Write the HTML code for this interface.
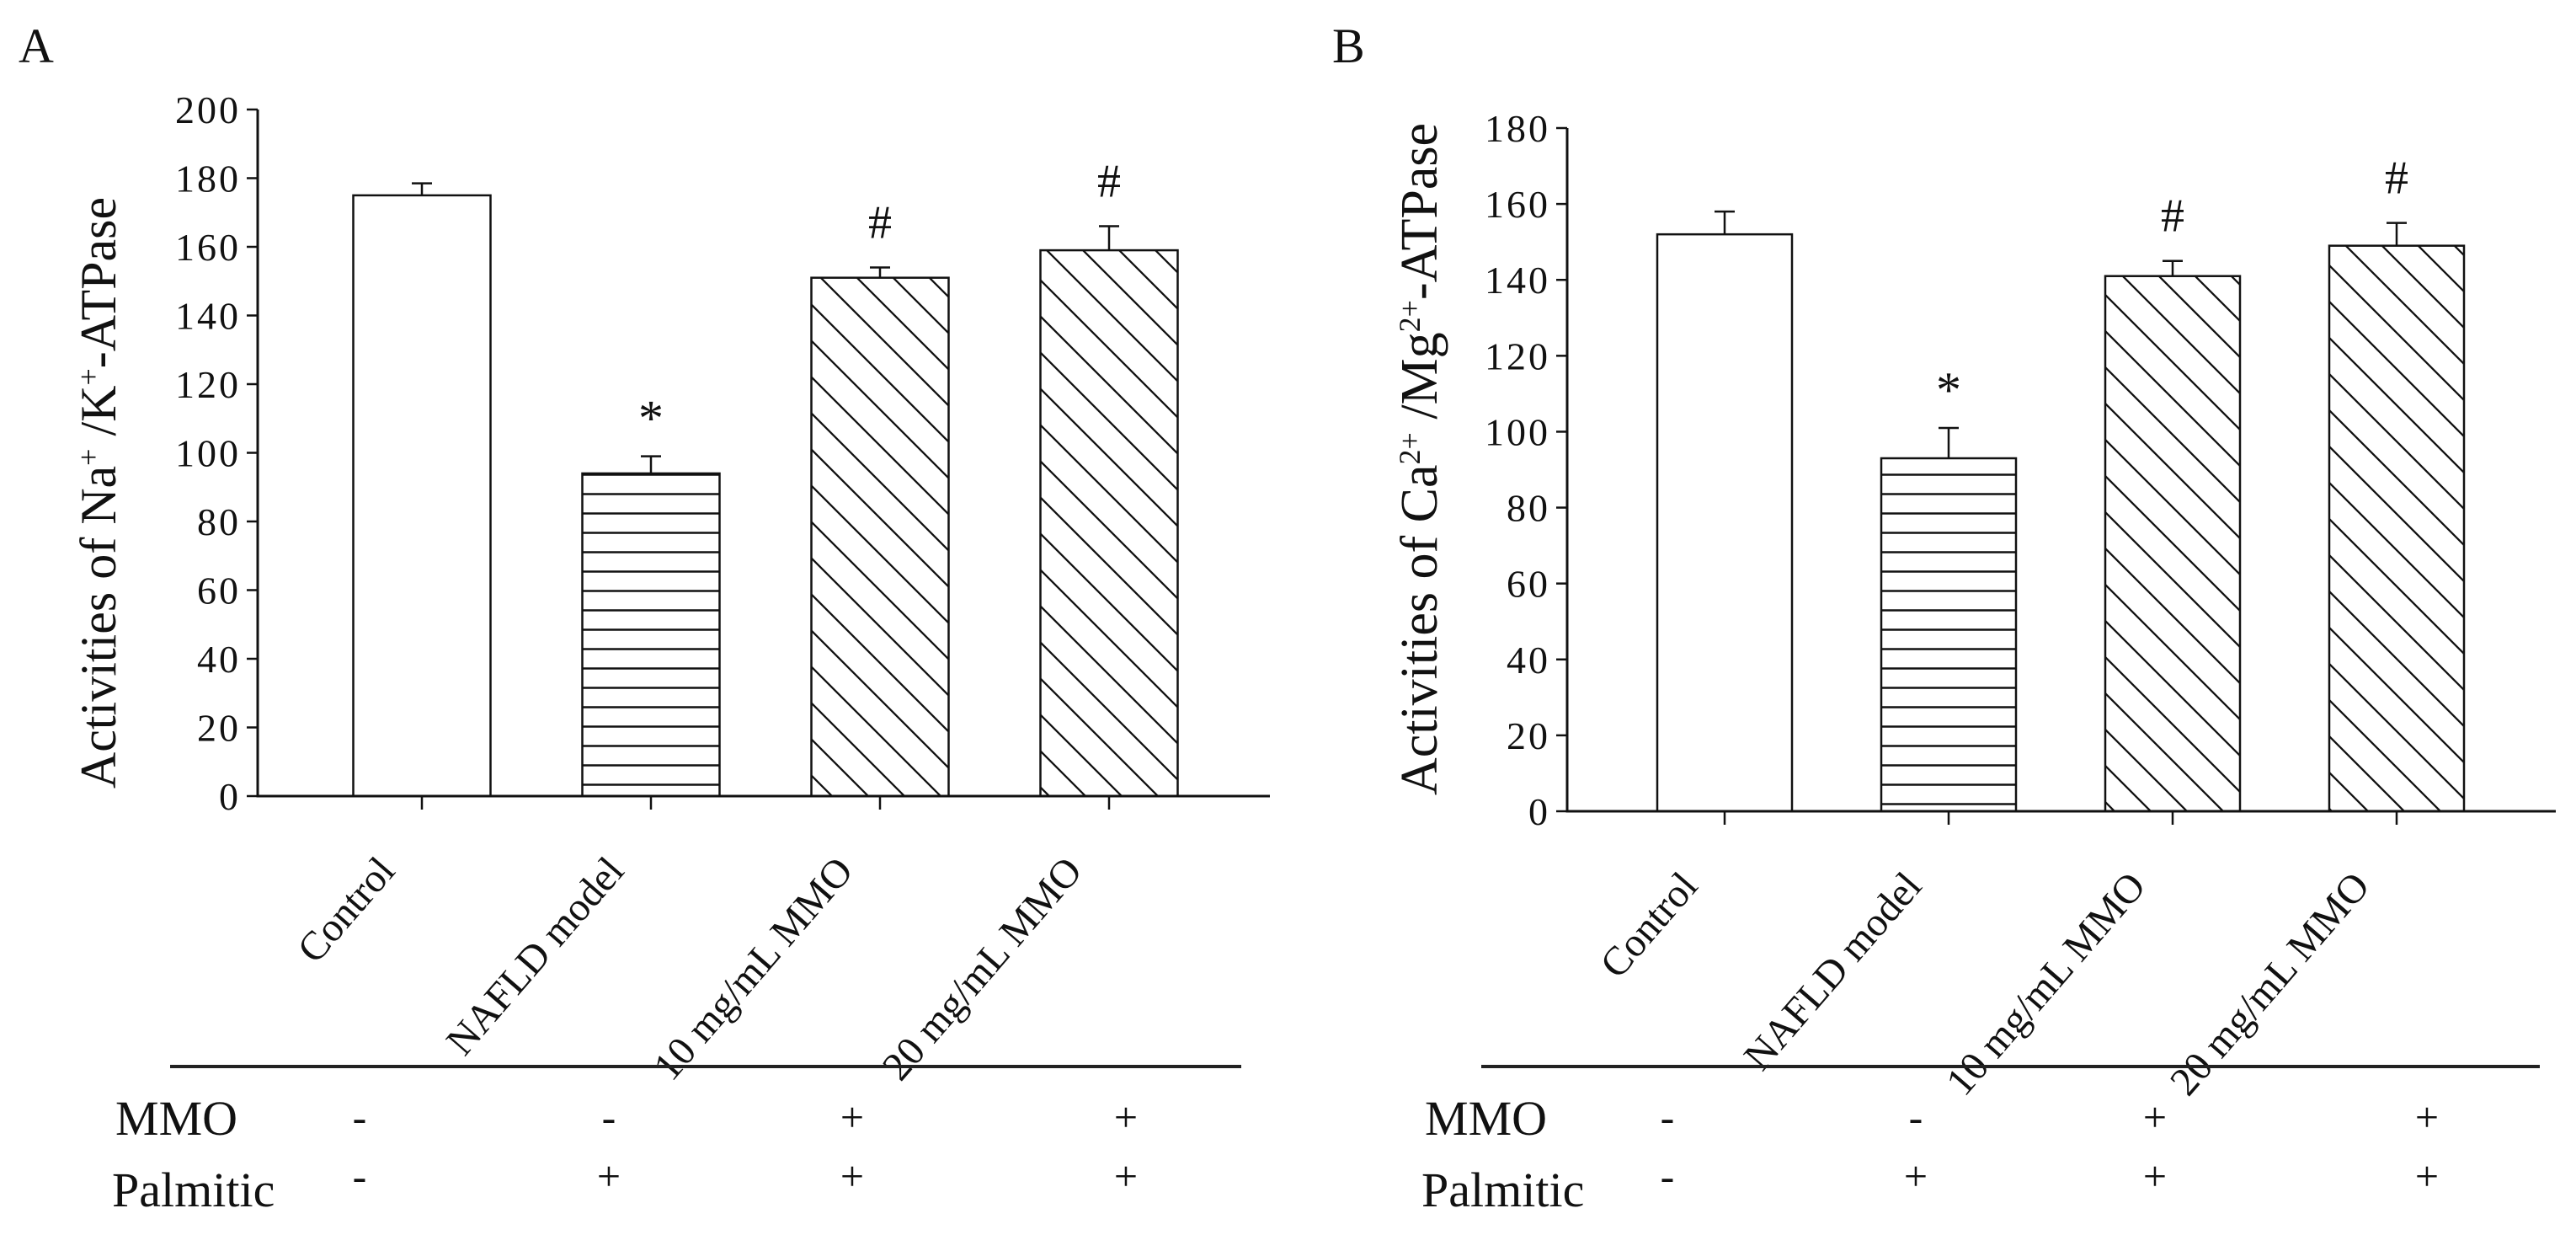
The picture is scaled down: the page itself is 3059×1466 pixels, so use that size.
<!DOCTYPE html>
<html><head><meta charset="utf-8"><style>
html,body{margin:0;padding:0;background:#fff}
svg{display:block}
text{font-family:"Liberation Serif",serif;fill:#111}
</style></head><body>
<svg id="fig" width="3059" height="1466" viewBox="0 0 3059 1466" xmlns="http://www.w3.org/2000/svg">
<defs>
<pattern id="hz" patternUnits="userSpaceOnUse" width="10" height="23"><line x1="0" y1="11.5" x2="10" y2="11.5" stroke="#111" stroke-width="2.5"/></pattern>
<pattern id="dg" patternUnits="userSpaceOnUse" width="43" height="43"><path d="M0,0 L43,43 M-21.5,21.5 L21.5,64.5 M21.5,-21.5 L64.5,21.5" stroke="#111" stroke-width="2.3"/></pattern>
</defs>
<g id="root"></g>
</svg>
<script>
const categories = ["Control","NAFLD model","10  mg/mL MMO","20 mg/mL MMO"];
const valuesA = [175, 94, 151, 159];
const errorsA = [3.5, 5, 3, 7];
const valuesB = [152, 93, 141, 149];
const errorsB = [6, 8, 4, 6];
const ticksA = [0,20,40,60,80,100,120,140,160,180,200];
const ticksB = [0,20,40,60,80,100,120,140,160,180];
const marks = ["", "*", "#", "#"];
const fills = ["#fff","url(#hz)","url(#dg)","url(#dg)"];
const mmoSigns = ["-","-","+","+"];
const palmSigns = ["-","+","+","+"];

const NS="http://www.w3.org/2000/svg";
const root=document.getElementById('root');
function mk(tag,attrs,parent,txt){const e=document.createElementNS(NS,tag);for(const k in attrs)e.setAttribute(k,attrs[k]);if(txt!==undefined)e.textContent=txt;(parent||root).appendChild(e);return e;}

function panel(cfg){
  const g=mk('g',{});
  
  
  const y=v=>cfg.y0-(v/cfg.max)*(cfg.y0-cfg.yTop);
  const xc=i=>cfg.x0+i*cfg.step;
  const L=mk('text',{x:cfg.letterX,y:74,'font-size':58},g,cfg.letter);
  
  
  cfg.vals.forEach((v,i)=>{
    const b=mk('rect',{x:xc(i)-cfg.bw/2,y:y(v),width:cfg.bw,height:cfg.y0-y(v),fill:fills[i],stroke:'#111','stroke-width':2.5},g);
    
    
    const top=y(v+cfg.errs[i]);
    const e=mk('path',{d:`M${xc(i)},${y(v)} L${xc(i)},${top} M${xc(i)-12},${top} L${xc(i)+12},${top}`,stroke:'#111','stroke-width':2.5,fill:'none'},g);
    
    
    if(marks[i]){
      const m=mk('text',{x:xc(i),y:top-(marks[i]==='*'?25:35),'font-size':marks[i]==='*'?60:56,'text-anchor':'middle'},g,marks[i]);
      
      
    }
    const t=mk('line',{x1:xc(i),y1:cfg.y0,x2:xc(i),y2:cfg.y0+16,stroke:'#111','stroke-width':2.5},g);
    
    
    const lx=xc(i)-30, ly=cfg.y0+90;
    const cl=mk('text',{x:lx,y:ly,'font-size':48,'text-anchor':'end',transform:`rotate(-49 ${lx} ${ly})`},g,categories[i]);
    
    
    const s1=mk('text',{x:cfg.signX[i],y:1343,'font-size':50,'text-anchor':'middle'},g,mmoSigns[i]);
    
    
    const s2=mk('text',{x:cfg.signX[i],y:1413,'font-size':50,'text-anchor':'middle'},g,palmSigns[i]);
    
    
  });
  const ax=mk('path',{d:`M${cfg.ax},${cfg.yTop} L${cfg.ax},${cfg.y0} L${cfg.axEnd},${cfg.y0}`,stroke:'#111','stroke-width':3,fill:'none'},g);
  
  
  cfg.ticks.forEach(v=>{
    const tk=mk('line',{x1:cfg.ax-13,y1:y(v),x2:cfg.ax,y2:y(v),stroke:'#111','stroke-width':2.5},g);
    
    
    const tl=mk('text',{x:cfg.ax-20,y:y(v)+16,'font-size':46,'text-anchor':'end','letter-spacing':'3'},g,String(v));
    
    
  });
  const tt=mk('text',{x:cfg.titleX,y:cfg.titleY,'font-size':cfg.titleSize,'text-anchor':'middle',transform:`rotate(-90 ${cfg.titleX} ${cfg.titleY})`},g);
  
  
  cfg.title(tt);
  const rule=mk('line',{x1:cfg.ruleX1,y1:1266,x2:cfg.ruleX2,y2:1266,stroke:'#222','stroke-width':4},g);
  
  
  const m1=mk('text',{x:cfg.rowX,y:1347,'font-size':58},g,'MMO');
  
  
  const m2=mk('text',{x:cfg.rowX-4,y:1432,'font-size':58},g,'Palmitic');
  
  
}
function sp(parent,txt,sup){const t=mk('tspan',sup?{'baseline-shift':'super','font-size':36}:{},parent,txt);return t;}

panel({name:'panel-a',letter:'A',letterX:22,vals:valuesA,errs:errorsA,ticks:ticksA,max:200,y0:945,yTop:130,
  x0:501,step:272,bw:163,ax:306,axEnd:1508,titleX:137,titleY:585,titleSize:60,ruleX1:202,ruleX2:1474,rowX:137,
  signX:[427,723,1012,1337],
  title:t=>{sp(t,'Activities of Na');sp(t,'+',1);sp(t,' /K');sp(t,'+',1);sp(t,'-ATPase');}});
panel({name:'panel-b',letter:'B',letterX:1582,vals:valuesB,errs:errorsB,ticks:ticksB,max:180,y0:963,yTop:152,
  x0:2048,step:266,bw:160,ax:1861,axEnd:3035,titleX:1706,titleY:545,titleSize:62,ruleX1:1759,ruleX2:3016,rowX:1692,
  signX:[1980,2275,2559,2882],
  title:t=>{sp(t,'Activities of  Ca');sp(t,'2+',1);sp(t,' /Mg');sp(t,'2+',1);sp(t,'-ATPase');}});
</script>
</body></html>
